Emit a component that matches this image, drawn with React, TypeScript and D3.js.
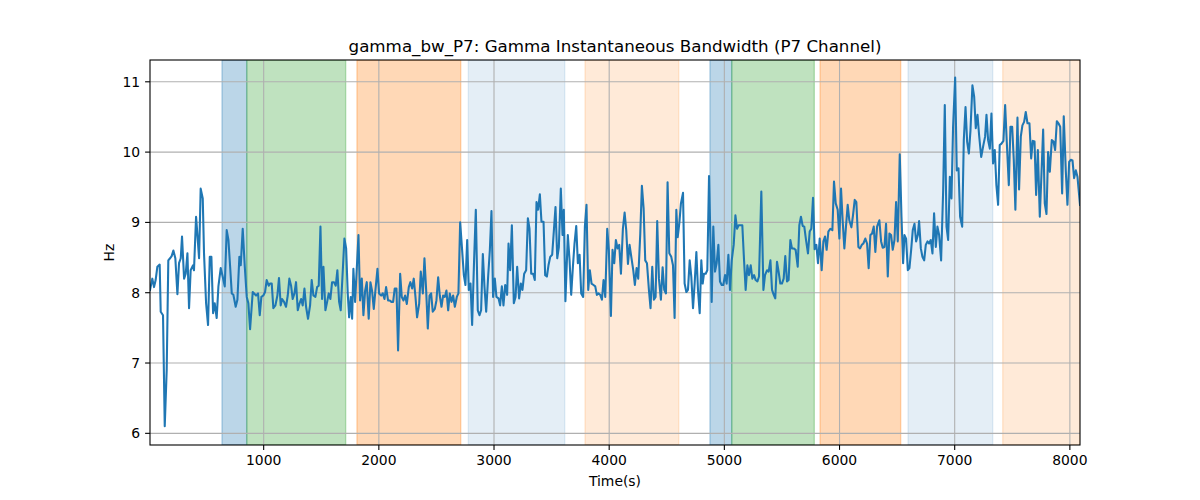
import * as d3 from 'd3';

// time (s), bandwidth (Hz)
const samples: [number, number][] = [
  [13, 8.04], [33, 8.2], [48, 8.08], [62, 8.18], [77, 8.37], [97, 8.4], [106, 7.73], [126, 7.68], [141, 6.1], [158, 6.9],
  [172, 8.46], [187, 8.49], [201, 8.52], [216, 8.6], [233, 8.49], [251, 7.98], [265, 8.42], [280, 8.49], [291, 8.8], [309, 8.2],
  [323, 8.27], [338, 8.56], [352, 7.78], [366, 8.32], [387, 8.39], [395, 8.32], [413, 9.08], [424, 8.84], [439, 8.49], [453, 9.48],
  [471, 9.34], [482, 8.56], [500, 7.85], [517, 7.54], [532, 8.51], [546, 8.51], [561, 7.71], [575, 7.85], [592, 7.64], [607, 8.09],
  [627, 8.35], [644, 8.23], [662, 8.09], [679, 8.89], [694, 8.75], [708, 8.39], [723, 7.99], [737, 7.97], [757, 7.8], [772, 7.9],
  [789, 8.51], [801, 8.39], [818, 8.91], [836, 8.37], [853, 7.94], [867, 7.85], [882, 7.48], [905, 8.01],
  [934, 7.96], [951, 7.99], [966, 7.68], [980, 7.94], [997, 7.96], [1012, 8.01], [1026, 8.18], [1044, 8.1], [1055, 8.13], [1070, 8.13],
  [1084, 7.78], [1102, 7.82], [1119, 7.96], [1133, 8.21], [1148, 7.82], [1160, 7.91], [1177, 7.87], [1194, 7.8], [1209, 7.96], [1223, 8.2],
  [1238, 8.1], [1252, 7.91], [1267, 7.99], [1281, 8.15], [1296, 7.75], [1310, 7.84], [1325, 7.91], [1339, 7.82], [1354, 8.06], [1368, 7.8],
  [1385, 7.63], [1403, 7.82], [1417, 8.18], [1432, 7.96], [1449, 7.94], [1464, 8.08], [1478, 8.1], [1493, 8.94], [1507, 7.91], [1519, 8.37],
  [1536, 7.75], [1551, 7.87], [1565, 7.99], [1579, 7.91], [1594, 8.15], [1611, 8.15], [1626, 8.1], [1640, 8.32], [1655, 7.87], [1669, 7.75],
  [1687, 8.32], [1701, 8.77], [1716, 8.63], [1730, 7.99], [1742, 7.65], [1756, 7.94], [1768, 7.63], [1779, 8.34], [1794, 7.87],
  [1823, 8.82], [1837, 7.89], [1852, 8.2], [1866, 7.68], [1881, 8.03], [1895, 8.15], [1912, 7.63], [1927, 8.15], [1941, 8.03], [1956, 7.77],
  [1970, 8.03], [1988, 8.34], [2002, 7.99], [2020, 7.96], [2034, 7.99], [2049, 7.91], [2063, 8.08], [2080, 7.89], [2095, 7.89], [2109, 7.87],
  [2124, 7.87], [2138, 8.06], [2153, 8.06], [2167, 7.18], [2185, 8.27], [2199, 7.94], [2214, 7.89], [2228, 7.96], [2243, 7.84], [2260, 8.08],
  [2274, 8.15], [2289, 8.06], [2303, 8.2], [2318, 7.94], [2332, 7.65], [2350, 7.84], [2364, 8.3], [2382, 7.99], [2396, 8.49], [2411, 8.03],
  [2425, 7.49], [2440, 7.96], [2454, 7.99], [2468, 7.73], [2486, 7.77], [2500, 7.89], [2515, 8.22], [2529, 7.96], [2544, 7.8], [2558, 7.96],
  [2573, 7.94], [2587, 8.03], [2602, 7.75], [2616, 7.99], [2631, 7.87], [2645, 7.96], [2660, 7.8], [2677, 7.94], [2691, 7.99], [2706, 9.0],
  [2723, 8.61], [2738, 8.25], [2752, 8.11], [2767, 8.75], [2781, 8.04], [2796, 8.13], [2810, 7.54], [2827, 8.46], [2842, 9.18], [2859, 7.75],
  [2874, 7.68], [2888, 7.75], [2903, 8.55], [2917, 8.09], [2932, 7.73], [2949, 8.23], [2964, 8.61], [2978, 9.16], [2992, 7.94], [3007, 8.2],
  [3021, 7.94], [3039, 7.92], [3053, 7.82], [3068, 8.09], [3082, 7.82], [3097, 8.11], [3114, 7.97], [3126, 8.7], [3140, 8.32], [3155, 8.96],
  [3172, 7.85], [3187, 7.94], [3201, 8.37], [3218, 7.92], [3233, 8.13], [3247, 8.04], [3262, 8.27], [3279, 8.32], [3294, 9.06], [3308, 8.91],
  [3323, 8.27], [3340, 8.27], [3354, 8.18], [3369, 9.29], [3383, 9.18], [3398, 9.4], [3412, 9.01], [3430, 9.01], [3444, 8.25], [3459, 8.23],
  [3473, 8.39], [3488, 8.51], [3505, 8.54], [3520, 8.89], [3534, 9.22], [3549, 8.49], [3563, 8.65], [3580, 9.48], [3595, 8.82], [3606, 9.18],
  [3620, 7.88],
  [3641, 8.82], [3656, 8.46], [3670, 7.97], [3685, 8.37], [3699, 8.7], [3714, 8.95], [3728, 8.42], [3743, 8.54], [3757, 7.99], [3774, 7.94],
  [3789, 8.94], [3803, 9.25], [3818, 8.04], [3832, 8.32], [3847, 8.13], [3864, 8.11], [3879, 8.09], [3893, 7.97], [3908, 7.99], [3922, 7.97],
  [3937, 7.9], [3951, 8.18], [3966, 7.94], [3983, 8.91], [3997, 8.61], [4015, 7.67], [4029, 8.61], [4044, 8.42], [4058, 8.75], [4073, 8.63],
  [4087, 8.68], [4102, 8.27], [4119, 8.91], [4134, 9.14], [4148, 8.89], [4163, 8.41], [4177, 8.68], [4192, 8.51], [4209, 8.32], [4223, 8.11],
  [4238, 8.35], [4252, 8.2], [4270, 8.84], [4284, 9.52], [4299, 9.2], [4313, 8.46], [4328, 8.42], [4345, 8.04], [4359, 7.78], [4374, 8.37],
  [4388, 7.9], [4403, 7.94], [4417, 9.02], [4432, 8.2], [4449, 7.9], [4464, 8.36], [4478, 8.04], [4493, 7.99], [4507, 9.57], [4522, 8.56],
  [4539, 8.51], [4554, 8.39], [4568, 7.64], [4583, 9.18], [4595, 8.79], [4609, 8.99], [4623, 9.27], [4641, 9.42], [4655, 8.13], [4670, 8.01],
  [4684, 8.04], [4699, 8.46], [4713, 8.23], [4728, 7.78], [4742, 8.13], [4757, 8.58], [4771, 8.04], [4786, 7.71], [4800, 8.46], [4812, 8.13],
  [4823, 8.27], [4838, 8.27], [4852, 8.32], [4867, 9.66], [4881, 8.61], [4890, 7.87], [4904, 8.94], [4919, 8.3], [4933, 8.42], [4948, 8.68],
  [4962, 8.16], [4977, 8.11], [4991, 8.11], [5006, 8.25], [5020, 8.13], [5035, 8.54], [5049, 8.04], [5064, 8.46], [5081, 8.68], [5096, 9.1],
  [5110, 8.91], [5124, 8.96], [5139, 8.96], [5156, 8.96], [5171, 8.46], [5185, 8.04], [5200, 8.39], [5214, 8.25], [5229, 8.39], [5243, 8.2],
  [5258, 8.25], [5272, 8.18], [5287, 8.16], [5301, 8.23], [5321, 9.44], [5339, 8.04], [5353, 8.25], [5371, 8.32], [5385, 8.3], [5400, 8.46],
  [5414, 8.04], [5429, 7.97],
  [5442, 7.92], [5457, 8.44], [5471, 8.3], [5486, 8.13], [5500, 8.13], [5515, 8.2], [5529, 8.52], [5544, 8.16], [5558, 8.18], [5573, 8.75],
  [5587, 8.63], [5602, 8.63], [5619, 8.61], [5637, 8.37], [5651, 8.96], [5665, 9.08], [5680, 8.95], [5694, 8.94], [5709, 8.75], [5726, 8.56],
  [5741, 8.87], [5755, 8.91], [5770, 9.35], [5784, 8.62], [5799, 8.68], [5813, 8.42], [5828, 8.77], [5845, 8.32], [5860, 8.73], [5874, 8.8],
  [5888, 8.61], [5903, 8.87], [5920, 8.91], [5938, 8.89], [5952, 9.58], [5967, 9.27], [5984, 9.18], [5999, 8.77], [6013, 9.48], [6027, 9.03],
  [6042, 8.63], [6056, 8.94], [6071, 9.25], [6085, 9.03], [6103, 8.93], [6117, 9.1], [6132, 9.32], [6146, 9.29], [6164, 8.65], [6178, 8.63],
  [6193, 8.68], [6207, 8.7], [6224, 8.77], [6239, 8.7], [6253, 8.35], [6268, 8.82], [6282, 8.84], [6297, 8.94], [6311, 8.58], [6326, 8.94],
  [6346, 9.03], [6361, 8.73], [6375, 8.64], [6390, 8.65], [6404, 8.98], [6419, 8.23], [6433, 8.84], [6448, 8.82], [6462, 8.61], [6477, 8.75],
  [6491, 9.29], [6506, 8.73], [6523, 9.97], [6538, 9.08], [6552, 8.42], [6564, 8.82], [6578, 8.77], [6593, 8.32], [6607, 8.35], [6622, 8.61],
  [6636, 8.89], [6651, 8.98], [6665, 8.73], [6680, 8.82], [6691, 9.02], [6706, 8.63], [6720, 8.51], [6735, 8.46], [6749, 8.68], [6764, 8.73],
  [6778, 8.7], [6792, 8.75], [6807, 8.56], [6821, 9.13], [6836, 8.65], [6850, 8.94], [6865, 8.82], [6882, 8.46], [6900, 9.46], [6914, 10.67],
  [6929, 8.94], [6943, 8.75], [6958, 9.65], [6972, 9.34], [6986, 10.36], [7004, 11.06], [7018, 9.74], [7033, 9.77], [7047, 9.08], [7065, 8.94],
  [7079, 10.17], [7094, 10.64], [7108, 10.15], [7123, 9.98], [7137, 10.31], [7154, 10.95], [7169, 10.79], [7183, 10.34], [7198, 10.53], [7212, 10.24],
  [7230, 9.93],
  [7249, 10.1], [7264, 10.22], [7276, 10.53], [7290, 10.17], [7305, 10.05], [7319, 10.55], [7333, 9.84], [7348, 10.03], [7362, 9.53], [7377, 9.25],
  [7391, 10.1], [7406, 10.12], [7423, 10.16], [7438, 10.67], [7452, 10.15], [7470, 9.53], [7484, 10.36], [7499, 10.36], [7513, 9.89], [7527, 9.18],
  [7545, 10.49], [7559, 9.47], [7574, 10.22], [7588, 10.38], [7603, 10.43], [7617, 10.57], [7632, 10.41], [7649, 10.41], [7664, 9.91], [7678, 10.16],
  [7693, 10.15], [7707, 9.39], [7722, 10.03], [7739, 9.08], [7753, 9.67], [7768, 10.32], [7782, 9.27], [7797, 9.12], [7811, 10.0], [7826, 9.72],
  [7843, 10.17], [7858, 10.15], [7872, 10.03], [7887, 10.44], [7901, 10.41], [7916, 10.36], [7933, 9.41], [7947, 10.51], [7965, 9.72], [7979, 9.25],
  [7994, 9.86], [8008, 9.89], [8023, 9.88], [8037, 9.63], [8052, 9.74], [8066, 9.65], [8088, 9.25],
];

// shaded stages: [start, end, colour, alpha]
const stageSpans: [number, number, string, number][] = [
  [638, 853, '#1f77b4', 0.3],
  [853, 1712, '#2ca02c', 0.3],
  [1810, 2711, '#ff7f0e', 0.3],
  [2777, 3614, '#1f77b4', 0.12],
  [3790, 4604, '#ff7f0e', 0.16],
  [4875, 5064, '#1f77b4', 0.3],
  [5064, 5781, '#2ca02c', 0.3],
  [5831, 6531, '#ff7f0e', 0.3],
  [6595, 7330, '#1f77b4', 0.12],
  [7417, 8088, '#ff7f0e', 0.16],
];

const xTicks = [1000, 2000, 3000, 4000, 5000, 6000, 7000, 8000];
const yTicks = [6, 7, 8, 9, 10, 11];

const W = 1200;
const H = 500;
const margin = { top: 60, right: 120, bottom: 55, left: 150 };
const font = '"DejaVu Sans", sans-serif';

export default function App() {
  const x = d3.scaleLinear().domain([13, 8088]).range([margin.left, W - margin.right]);
  const y = d3.scaleLinear().domain([5.834, 11.31]).range([H - margin.bottom, margin.top]);

  const line = d3.line<[number, number]>()
    .x(d => x(d[0]))
    .y(d => y(d[1]));

  const left = margin.left;
  const right = W - margin.right;
  const top = margin.top;
  const bottom = H - margin.bottom;
  const midX = (left + right) / 2;

  return (
    <svg width={W} height={H} style={{ position: 'absolute', left: 0, top: 0, background: '#fff' }} fontFamily={font}>
      <defs>
        <clipPath id="plot">
          <rect x={left} y={top} width={right - left} height={bottom - top} />
        </clipPath>
      </defs>

      {/* stage spans */}
      <g clipPath="url(#plot)">
        {stageSpans.map(([s, e, c, a], i) => (
          <rect key={i} x={x(s)} y={top} width={x(e) - x(s)} height={bottom - top}
            fill={c} fillOpacity={a} stroke={c} strokeOpacity={a} strokeWidth={1.4} />
        ))}
      </g>

      {/* grid */}
      <g stroke="#b0b0b0" strokeWidth={1.1}>
        {xTicks.map(t => <line key={t} x1={x(t)} x2={x(t)} y1={top} y2={bottom} />)}
        {yTicks.map(t => <line key={t} x1={left} x2={right} y1={y(t)} y2={y(t)} />)}
      </g>

      {/* trace */}
      <path d={line(samples) || ''} fill="none" stroke="#1f77b4" strokeWidth={2.08}
        strokeLinejoin="round" strokeLinecap="square" clipPath="url(#plot)" />

      {/* spines */}
      <rect x={left} y={top} width={right - left} height={bottom - top} fill="none" stroke="#000" strokeWidth={1.1} />

      {/* x ticks */}
      <g fontSize={13.9} fill="#000">
        {xTicks.map(t => (
          <g key={t}>
            <line x1={x(t)} x2={x(t)} y1={bottom} y2={bottom + 4.9} stroke="#000" strokeWidth={1.1} />
            <text x={x(t)} y={bottom + 20} textAnchor="middle">{t}</text>
          </g>
        ))}
        {yTicks.map(t => (
          <g key={t}>
            <line x1={left - 4.9} x2={left} y1={y(t)} y2={y(t)} stroke="#000" strokeWidth={1.1} />
            <text x={left - 9.8} y={y(t)} dy="0.36em" textAnchor="end">{t}</text>
          </g>
        ))}
      </g>

      <text x={midX} y={486} textAnchor="middle" fontSize={13.9}>Time(s)</text>
      <text transform={`translate(${114},${(top + bottom) / 2}) rotate(-90)`} textAnchor="middle" fontSize={13.9}>Hz</text>
      <text x={midX} y={top - 8} textAnchor="middle" fontSize={16.7}>gamma_bw_P7: Gamma Instantaneous Bandwidth (P7 Channel)</text>
    </svg>
  );
}
